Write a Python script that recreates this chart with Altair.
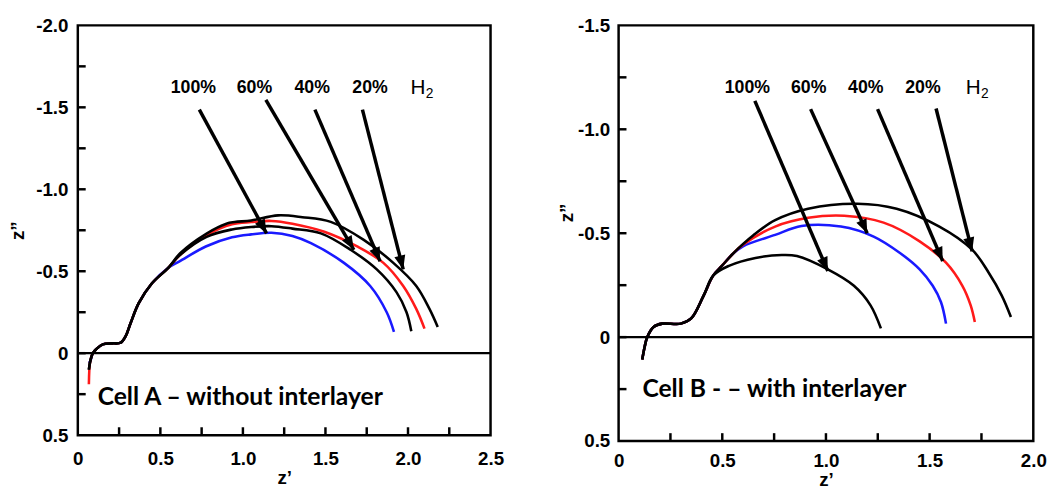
import math
import altair as alt
import pandas as pd

# ---------------- Cell A (left) ----------------
a_start_x = [0.067, 0.075, 0.091, 0.111, 0.151, 0.21, 0.26, 0.29, 0.32, 0.369, 0.448, 0.548]
a_start_y = [0.10, 0.05, 0.0, -0.024, -0.054, -0.06, -0.064, -0.104, -0.184, -0.305, -0.425, -0.521]

a_blue_x = [0.616, 0.775, 0.934, 1.05, 1.173, 1.30, 1.412, 1.612, 1.771, 1.871, 1.915]
a_blue_y = [-0.56, -0.651, -0.707, -0.725, -0.735, -0.715, -0.671, -0.551, -0.41, -0.25, -0.13]

a_red_x = [0.62, 0.78, 0.934, 1.05, 1.173, 1.30, 1.493, 1.692, 1.851, 1.971, 2.05, 2.10]
a_red_y = [-0.60, -0.72, -0.787, -0.80, -0.807, -0.79, -0.741, -0.651, -0.551, -0.41, -0.27, -0.15]

a_black1_x = [0.62, 0.78, 0.934, 1.05, 1.173, 1.30, 1.472, 1.652, 1.811, 1.931, 1.991, 2.02]
a_black1_y = [-0.60, -0.71, -0.755, -0.77, -0.775, -0.76, -0.731, -0.631, -0.511, -0.371, -0.25, -0.134]

a_black2_x = [0.62, 0.78, 0.90, 0.95, 1.05, 1.213, 1.36, 1.532, 1.732, 1.911, 2.05, 2.13, 2.18]
a_black2_y = [-0.61, -0.73, -0.79, -0.80, -0.81, -0.841, -0.83, -0.801, -0.691, -0.551, -0.41, -0.27, -0.16]

a_red_tail_y = 0.19  # red dips lower at start

a_lab_text = ["100%", "60%", "40%", "20%"]
a_lab_x = [0.70, 1.07, 1.42, 1.77]
a_h2_x = 2.06
a_lab_y = -1.62

a_arr_x1 = [0.736, 1.139, 1.436, 1.724]
a_arr_y1 = [-1.486, -1.546, -1.486, -1.486]
a_arr_x2 = [1.143, 1.672, 1.831, 1.971]
a_arr_y2 = [-0.731, -0.631, -0.561, -0.511]

# ---------------- Cell B (right) ----------------
b_start_x = [0.114, 0.125, 0.138, 0.17, 0.21, 0.30, 0.35, 0.41, 0.456]
b_start_y = [0.108, 0.05, 0.0, -0.05, -0.065, -0.065, -0.09, -0.2, -0.296]

b_small_x = [0.532, 0.66, 0.787, 0.86, 1.009, 1.135, 1.215, 1.265]
b_small_y = [-0.343, -0.381, -0.395, -0.39, -0.326, -0.247, -0.153, -0.042]

b_blue_x = [0.50, 0.55, 0.60, 0.755, 0.882, 1.072, 1.23, 1.357, 1.452, 1.515, 1.555, 1.579]
b_blue_y = [-0.345, -0.40, -0.437, -0.492, -0.535, -0.532, -0.484, -0.405, -0.326, -0.247, -0.168, -0.065]

b_red_x = [0.50, 0.55, 0.60, 0.755, 0.914, 1.088, 1.278, 1.452, 1.579, 1.658, 1.698, 1.718]
b_red_y = [-0.345, -0.40, -0.445, -0.532, -0.574, -0.584, -0.551, -0.461, -0.358, -0.247, -0.153, -0.073]

b_black_x = [0.50, 0.55, 0.65, 0.755, 0.914, 1.151, 1.341, 1.547, 1.705, 1.785, 1.848, 1.892]
b_black_y = [-0.345, -0.40, -0.49, -0.563, -0.618, -0.642, -0.618, -0.532, -0.421, -0.31, -0.2, -0.097]

b_lab_text = ["100%", "60%", "40%", "20%"]
b_lab_x = [0.621, 0.917, 1.192, 1.468]
b_h2_x = 1.71
b_lab_y = -1.20

b_arr_x1 = [0.657, 0.926, 1.249, 1.531]
b_arr_y1 = [-1.137, -1.097, -1.097, -1.100]
b_arr_x2 = [1.009, 1.199, 1.563, 1.705]
b_arr_y2 = [-0.318, -0.50, -0.366, -0.413]

BLUE = "#1a1aff"
RED = "#ff1a1a"
BLACK = "#000000"

LABEL_EXPR = ("datum.value == 0 ? '0' : (datum.value < 0 ? '-' + format(-datum.value, '.1f') "
              ": format(datum.value, '.1f'))")
HEAD = "M 0 0 L 0.4 1 L -0.4 1 Z"
TICK_LEN = 8


def curves_frame(curves):
    rows = []
    for name, xs, ys in curves:
        for i, (x, y) in enumerate(zip(xs, ys)):
            rows.append({"s": name, "i": i, "x": x, "y": y})
    return pd.DataFrame(rows)


def panel(curves, names, colors, ax1, ay1, ax2, ay2, labs, labx, laby, h2x,
          note, notex, notey, xmax, ymin, w, h, xlabpad, ylabpad, ytitlepad, ytitley):
    cdf = curves_frame(curves)
    xsc = alt.Scale(domain=[0, xmax], nice=False, zero=False)
    ysc = alt.Scale(domain=[ymin, 0.5], reverse=True, nice=False, zero=False)
    n_x = int(round(xmax / 0.5))
    n_y = int(round((0.5 - ymin) / 0.5))
    major_x = [round(0.5 * k, 2) for k in range(n_x + 1)]
    major_y = [round(ymin + 0.5 * k, 2) for k in range(n_y + 1)]
    minor_x = [round(0.25 * k, 2) for k in range(1, 2 * n_x)]
    minor_y = [round(ymin + 0.25 * k, 2) for k in range(1, 2 * n_y)]

    lab_font = dict(labelFont="Liberation Sans", labelFontSize=19, labelFontWeight="bold",
                    labelColor="black", titleFont="Liberation Sans", titleFontSize=19,
                    titleFontWeight="bold", titleColor="black", grid=False, domain=False,
                    tickSize=0, labelExpr=LABEL_EXPR)
    xaxis = alt.Axis(values=major_x, labelFlush=False, labelPadding=xlabpad,
                     title="z’", titlePadding=0, orient="bottom", **lab_font)
    yaxis = alt.Axis(values=major_y, labelPadding=ylabpad, title="z”",
                     titlePadding=ytitlepad, titleY=ytitley, orient="left", **lab_font)

    lines = alt.Chart(cdf).mark_line(strokeWidth=2.6, strokeJoin="round",
                                     interpolate="catmull-rom").encode(
        x=alt.X("x:Q", scale=xsc, axis=xaxis),
        y=alt.Y("y:Q", scale=ysc, axis=yaxis),
        color=alt.Color("s:N", scale=alt.Scale(domain=names, range=colors), legend=None),
        order="i:Q",
    )

    zero = alt.Chart(pd.DataFrame({"y": [0.0]})).mark_rule(color="black", strokeWidth=2.2).encode(
        y=alt.Y("y:Q", scale=ysc),
    )

    # inward ticks: short rules starting at the axis edge (offset in pixels)
    yt = alt.Chart(pd.DataFrame({"v": minor_y, "e": [0.0] * len(minor_y)})).mark_rule(
        color="black", strokeWidth=2.5, x2Offset=TICK_LEN).encode(
        y=alt.Y("v:Q", scale=ysc), x=alt.X("e:Q", scale=xsc), x2="e:Q")
    xt = alt.Chart(pd.DataFrame({"v": minor_x, "e": [0.5] * len(minor_x)})).mark_rule(
        color="black", strokeWidth=2.5, y2Offset=-TICK_LEN).encode(
        x=alt.X("v:Q", scale=xsc), y=alt.Y("e:Q", scale=ysc), y2="e:Q")

    # arrows
    sx = w / xmax
    sy = h / (0.5 - ymin)
    angs = []
    for x1, y1, x2, y2 in zip(ax1, ay1, ax2, ay2):
        dx = (x2 - x1) * sx
        dy = (y2 - y1) * sy
        angs.append(math.degrees(math.atan2(dx, -dy)) % 360)
    adf = pd.DataFrame({"x": ax1, "y": ay1, "x2": ax2, "y2": ay2, "ang": angs})
    arrows = alt.Chart(adf).mark_rule(color="black", strokeWidth=3.5).encode(
        x=alt.X("x:Q", scale=xsc), y=alt.Y("y:Q", scale=ysc), x2="x2:Q", y2="y2:Q",
    )
    heads = alt.Chart(adf).mark_point(shape=HEAD, filled=True, size=800,
                                      color="black", opacity=1).encode(
        x=alt.X("x2:Q", scale=xsc), y=alt.Y("y2:Q", scale=ysc),
        angle=alt.Angle("ang:Q", scale=None),
    )

    ldf = pd.DataFrame({"t": labs, "x": labx, "y": [laby] * len(labs)})
    labels = alt.Chart(ldf).mark_text(font="Liberation Sans", fontSize=18, fontWeight="bold",
                                      color="black").encode(
        x=alt.X("x:Q", scale=xsc), y=alt.Y("y:Q", scale=ysc), text="t:N")
    hdf = pd.DataFrame({"t": ["H"], "s": ["2"], "x": [h2x], "y": [laby]})
    h_main = alt.Chart(hdf).mark_text(font="Liberation Sans", fontSize=21, color="black",
                                      align="center").encode(
        x=alt.X("x:Q", scale=xsc), y=alt.Y("y:Q", scale=ysc), text="t:N")
    h_sub = alt.Chart(hdf).mark_text(font="Liberation Sans", fontSize=14, color="black",
                                     align="left", dx=8, dy=6).encode(
        x=alt.X("x:Q", scale=xsc), y=alt.Y("y:Q", scale=ysc), text="s:N")
    notec = alt.Chart(pd.DataFrame({"t": [note], "x": [notex], "y": [notey]})).mark_text(
        font="Lato", fontSize=25, fontWeight="bold", color="black", align="left").encode(
        x=alt.X("x:Q", scale=xsc), y=alt.Y("y:Q", scale=ysc), text="t:N")

    return alt.layer(lines, zero, yt, xt, arrows, heads, labels, h_main, h_sub, notec).properties(
        width=w, height=h)


left = panel(
    [("a1", a_start_x + a_blue_x, [0.06] + a_start_y[1:] + a_blue_y),
     ("a2", a_start_x + a_red_x, [a_red_tail_y] + a_start_y[1:] + a_red_y),
     ("a3", a_start_x + a_black1_x, a_start_y + a_black1_y),
     ("a4", a_start_x + a_black2_x, a_start_y + a_black2_y)],
    ["a1", "a2", "a3", "a4"], [BLUE, RED, BLACK, BLACK],
    a_arr_x1, a_arr_y1, a_arr_x2, a_arr_y2, a_lab_text, a_lab_x, a_lab_y, a_h2_x,
    "Cell A – without interlayer", 0.12, 0.265, 2.5, -2.0, 419, 416, 15, 10, 8, 208)

right = panel(
    [("b1", b_start_x + b_blue_x, b_start_y + b_blue_y),
     ("b2", b_start_x + b_red_x, b_start_y + b_red_y),
     ("b3", b_start_x + b_small_x, b_start_y + b_small_y),
     ("b4", b_start_x + b_black_x, b_start_y + b_black_y)],
    ["b1", "b2", "b3", "b4"], [BLUE, RED, BLACK, BLACK],
    b_arr_x1, b_arr_y1, b_arr_x2, b_arr_y2, b_lab_text, b_lab_x, b_lab_y, b_h2_x,
    "Cell B - – with interlayer", 0.115, 0.25, 2.0, -1.5, 421, 422, 11, 9, 1, 190)

chart = alt.hconcat(left, right, spacing=52).properties(
    padding={"left": 8, "top": 11, "right": 5, "bottom": 0},
    background="white",
).configure_view(stroke="black", strokeWidth=2.5)

chart.save("out.html", embed_options={"renderer": "svg", "actions": False})
